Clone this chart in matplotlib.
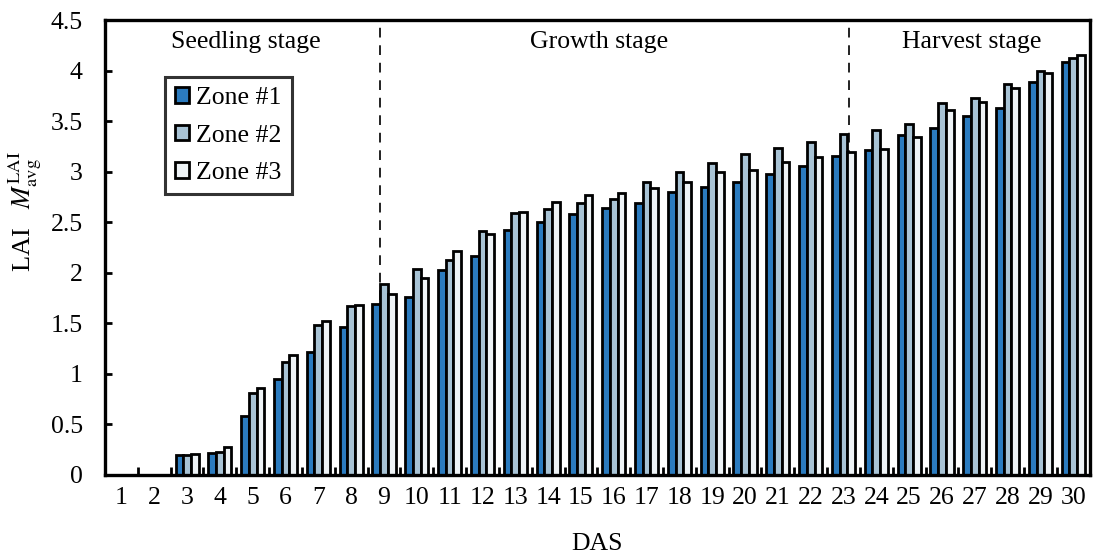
import matplotlib
matplotlib.use("Agg")
import matplotlib.pyplot as plt
import numpy as np

plt.rcParams['font.family'] = ['Liberation Serif', 'DejaVu Serif']
plt.rcParams['mathtext.fontset'] = 'stix'

# LAI per day after sowing, three zones
das = list(range(1, 31))
zone1 = [0, 0, 0.20, 0.22, 0.58, 0.95, 1.22, 1.46, 1.69, 1.76,
         2.03, 2.17, 2.42, 2.50, 2.58, 2.64, 2.69, 2.80, 2.85, 2.90,
         2.98, 3.06, 3.16, 3.21, 3.36, 3.43, 3.55, 3.63, 3.89, 4.09]
zone2 = [0, 0, 0.20, 0.23, 0.81, 1.12, 1.48, 1.67, 1.89, 2.04,
         2.13, 2.41, 2.59, 2.63, 2.69, 2.73, 2.90, 3.00, 3.09, 3.17,
         3.23, 3.29, 3.37, 3.41, 3.47, 3.68, 3.73, 3.87, 4.00, 4.12]
zone3 = [0, 0, 0.21, 0.28, 0.86, 1.19, 1.52, 1.68, 1.79, 1.95,
         2.22, 2.38, 2.60, 2.70, 2.77, 2.79, 2.84, 2.90, 3.00, 3.02,
         3.10, 3.15, 3.19, 3.22, 3.34, 3.61, 3.69, 3.83, 3.98, 4.15]
zones = ["Zone #1", "Zone #2", "Zone #3"]
colors = ["#2b7bbf", "#a8c3d5", "#eef3f6"]
stage_bounds = [8.88, 23.16]
stages = [("Seedling stage", 4.8), ("Growth stage", 15.55), ("Harvest stage", 26.9)]

fig = plt.figure(figsize=(10.94, 5.58), dpi=100)
ax = fig.add_axes([0.096, 0.149, 0.9, 0.815])

x = np.array(das)
w = 0.235
for k, (vals, c, lab) in enumerate(zip([zone1, zone2, zone3], colors, zones)):
    ax.bar(x + (k - 1) * w, vals, width=w, color=c, edgecolor='black',
           linewidth=2, label=lab, zorder=2)

for b in stage_bounds:
    ax.axvline(b, color='#222222', linestyle=(0, (5, 4)), linewidth=1.4, zorder=1)
for name, xs in stages:
    ax.text(xs, 4.28, name, ha='center', va='center', fontsize=18.5)

ax.set_xlim(0.5, 30.5)
ax.set_ylim(0, 4.5)
ax.set_yticks(np.arange(0, 4.51, 0.5))
ax.set_yticklabels(['0', '0.5', '1', '1.5', '2', '2.5', '3', '3.5', '4', '4.5'])
ax.set_xticks(das)
ax.set_xticks(np.arange(1.5, 30, 1), minor=True)
ax.tick_params(axis='x', which='major', length=0, labelsize=18.5, pad=9)
ax.tick_params(axis='x', which='minor', direction='in', length=6, width=2)
ax.tick_params(axis='y', direction='in', length=5, width=2, labelsize=18.5, pad=16)
for s in ax.spines.values():
    s.set_linewidth(2.4)

ax.set_xlabel('DAS', fontsize=18.5, labelpad=17)
ax.set_ylabel(r'LAI   $M_{\mathrm{avg}}^{\mathrm{LAI}}$', fontsize=19)
ax.yaxis.set_label_coords(-0.062, 0.58)

leg = ax.legend(loc='upper left', bbox_to_anchor=(0.061, 0.875), fontsize=18.5,
                frameon=True, fancybox=False, edgecolor='black',
                handlelength=0.55, handleheight=0.55, handletextpad=0.25,
                borderpad=0.4, labelspacing=0.6, borderaxespad=0)
leg.get_frame().set_linewidth(2.2)

fig.savefig('out.png', dpi=100)
